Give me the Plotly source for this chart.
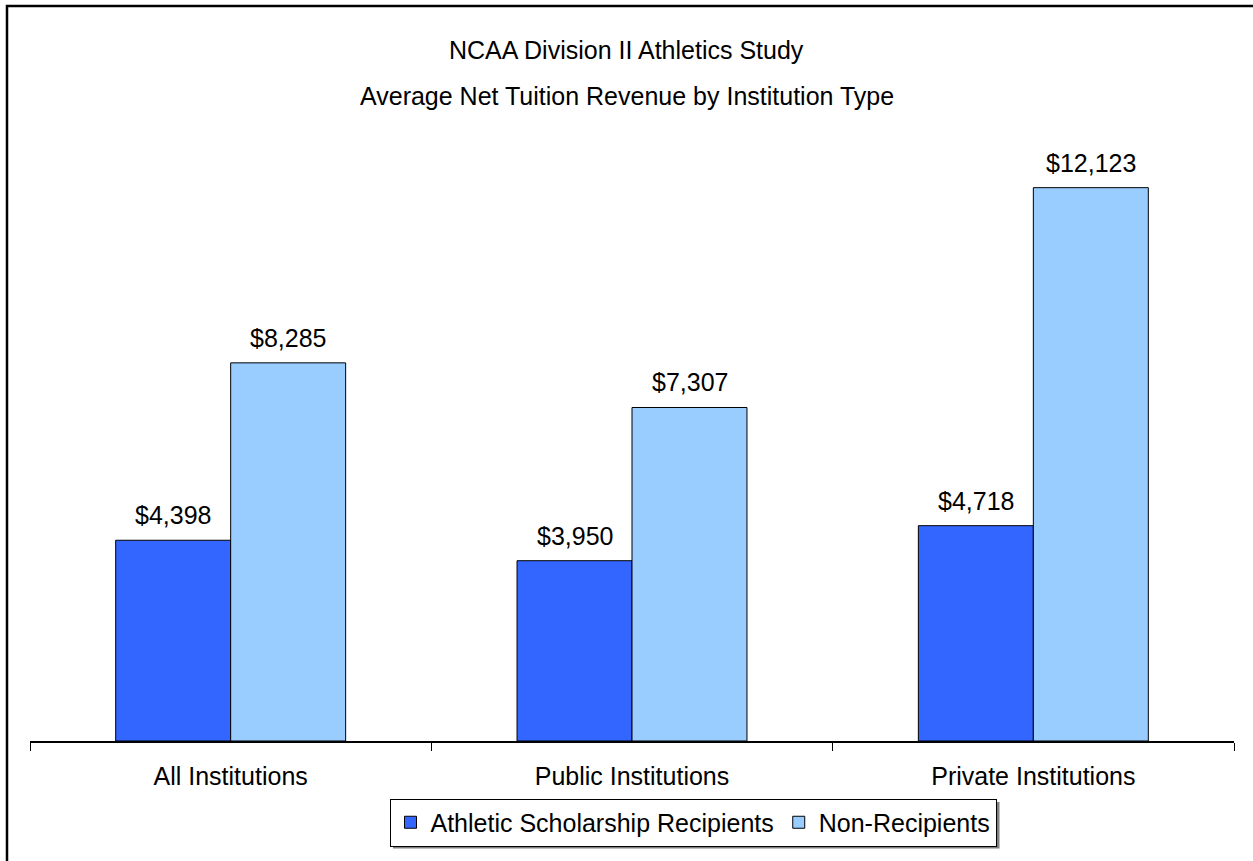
import plotly.graph_objects as go

categories = ["All Institutions", "Public Institutions", "Private Institutions"]
recipients = [4398, 3950, 4718]
non_recipients = [8285, 7307, 12123]
series_names = ["Athletic Scholarship Recipients", "Non-Recipients"]
title_lines = ["NCAA Division II Athletics Study", "Average Net Tuition Revenue by Institution Type"]

W, H = 1253, 861
L, R, T, B = 30, 19, 102, 120
PW, PH = W - L - R, H - T - B


def px_x(px):
    return (px - L) / PW


def px_y(py):
    return (H - B - py) / PH


FONT = "Liberation Sans, Arial, sans-serif"
FS = 25

fig = go.Figure()
fig.add_trace(go.Bar(x=categories, y=recipients, name=series_names[0],
                     marker=dict(color="#3366FF", line=dict(color="black", width=1))))
fig.add_trace(go.Bar(x=categories, y=non_recipients, name=series_names[1],
                     marker=dict(color="#99CCFF", line=dict(color="black", width=1))))

annotations = []
for vals, shift in ((recipients, -57.5), (non_recipients, 57.5)):
    for c, v in zip(categories, vals):
        annotations.append(dict(x=c, y=v, xref="x", yref="y", text=f"${v:,}",
                                showarrow=False, xshift=shift, yanchor="middle", yshift=25,
                                font=dict(size=FS, color="black", family=FONT)))
for line, py in zip(title_lines, (50, 96)):
    annotations.append(dict(x=px_x(626.5), y=px_y(py), xref="paper", yref="paper", text=line,
                            showarrow=False, xanchor="center", yanchor="middle",
                            font=dict(size=FS, color="black", family=FONT)))

shapes = [
    # outer chart frame (partially cropped)
    dict(type="rect", xref="paper", yref="paper", x0=px_x(7), y0=px_y(6), x1=px_x(1280), y1=px_y(900),
         line=dict(color="black", width=2.5), fillcolor="rgba(0,0,0,0)", layer="below"),
    # legend drop shadow
    dict(type="rect", xref="paper", yref="paper", x0=px_x(393), y0=px_y(802), x1=px_x(999.5), y1=px_y(848.5),
         line=dict(width=0), fillcolor="#808080", layer="below"),
]

fig.update_layout(
    width=W, height=H,
    margin=dict(l=L, r=R, t=T, b=B, pad=0),
    paper_bgcolor="white", plot_bgcolor="white",
    barmode="group", bargap=0.427, bargroupgap=0,
    font=dict(family=FONT, size=FS, color="black"),
    showlegend=True,
    legend=dict(orientation="h", x=px_x(693), y=px_y(822.5), xanchor="center", yanchor="middle",
                bgcolor="white", bordercolor="black", borderwidth=1,
                font=dict(size=FS, family=FONT, color="black"), itemwidth=30,
                tracegroupgap=0),
    annotations=annotations,
    shapes=shapes,
    xaxis=dict(type="category", showline=True, linecolor="black", linewidth=1.5,
               ticks="outside", tickson="boundaries", ticklen=8, tickcolor="black", tickwidth=1,
               tickfont=dict(size=FS, family=FONT, color="black"), ticklabelstandoff=12,
               showgrid=False, zeroline=False),
    yaxis=dict(range=[0, 14000], visible=False, showgrid=False, zeroline=False),
)

fig.write_html("out.html", config={"displayModeBar": False},
               post_script="document.body.style.margin='0';document.body.style.overflow='hidden';")
